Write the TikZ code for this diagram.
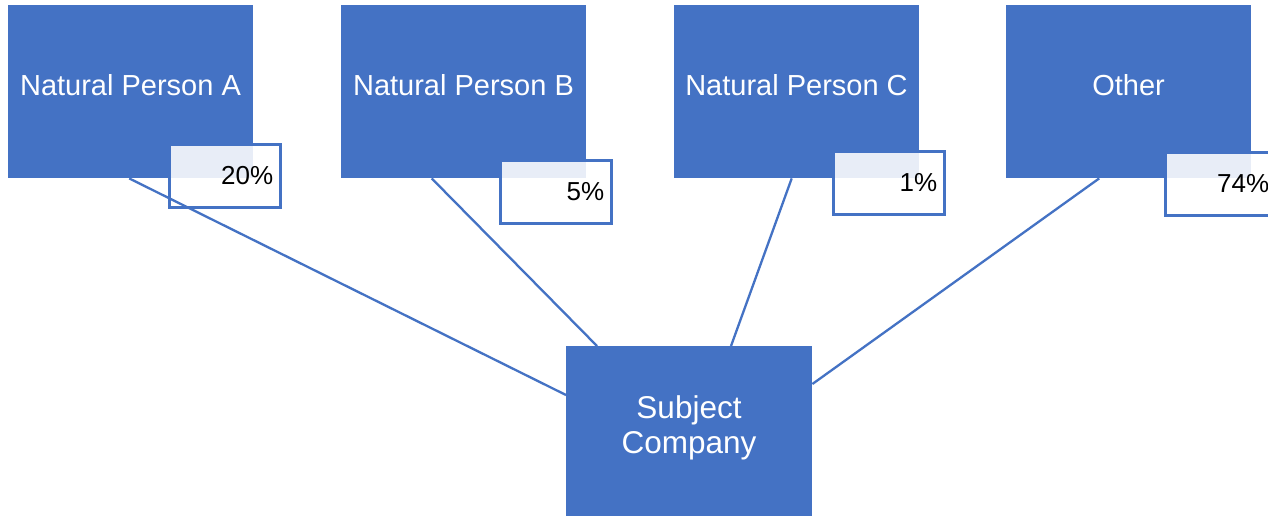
\documentclass[tikz,border=0pt]{standalone}
\usepackage{fontspec}
\setmainfont{Liberation Sans}
\usetikzlibrary{calc}
\definecolor{blu}{HTML}{4472C4}
\begin{document}
\begin{tikzpicture}[x=1pt,y=-1pt,
  owner/.style={rectangle, fill=blu, draw=none, minimum width=245pt, minimum height=173pt, anchor=north west, inner sep=0pt},
  subj/.style={rectangle, fill=blu, draw=none, minimum width=246pt, minimum height=220pt, anchor=north west, inner sep=0pt},
  lbl/.style={text=white, font=\fontsize{29}{35}\selectfont, anchor=base, inner sep=0pt},
  slbl/.style={text=white, font=\fontsize{31.5}{35}\selectfont, align=center, inner sep=0pt},
  pct/.style={rectangle, draw=blu, line width=2.5pt, fill=white, fill opacity=0.88, text opacity=1, minimum width=111pt, minimum height=63pt, text width=97pt, align=right, inner xsep=7pt, inner ysep=0pt, anchor=north west, font=\fontsize{26}{30}\selectfont},
  conn/.style={draw=blu, line width=2.3pt}]
\useasboundingbox (0,0) rectangle (1268,516);
\clip (0,0) rectangle (1268,516);
\fill[white] (0,0) rectangle (1268,516);
% owners
\node[owner] (A) at (8,5) {};
\node[owner] (B) at (341,5) {};
\node[owner] (C) at (674,5) {};
\node[owner] (O) at (1006,5) {};
\node[lbl] (tA) at (130.5,96) {Natural Person A};
\node[lbl] (tB) at (463.5,96) {Natural Person B};
\node[lbl] (tC) at (796.5,96) {Natural Person C};
\node[lbl] (tO) at (1128.5,96) {Other};
% subject company
\node[subj] (S) at (566,346) {};
\node[slbl] (tS) at (689,428) {Subject\\Company};
% percentages
\node[pct] (pA) at (168,143) {20\%};
\node[pct] (pB) at (499,159) {5\%};
\node[pct] (pC) at (832,150) {1\%};
\node[pct] (pO) at (1164,151) {74\%};
% connectors
\draw[conn] ([xshift=-1.5pt]A.south) -- ($(S.north west)+(0,49)$);
\draw[conn] ([xshift=-32pt]B.south) -- ($(S.north west)+(31,0)$);
\draw[conn] ([xshift=-5pt]C.south) -- ($(S.north west)+(165,0)$);
\draw[conn] ([xshift=-29.5pt]O.south) -- ($(S.north east)+(0,38)$);
\end{tikzpicture}
\end{document}
